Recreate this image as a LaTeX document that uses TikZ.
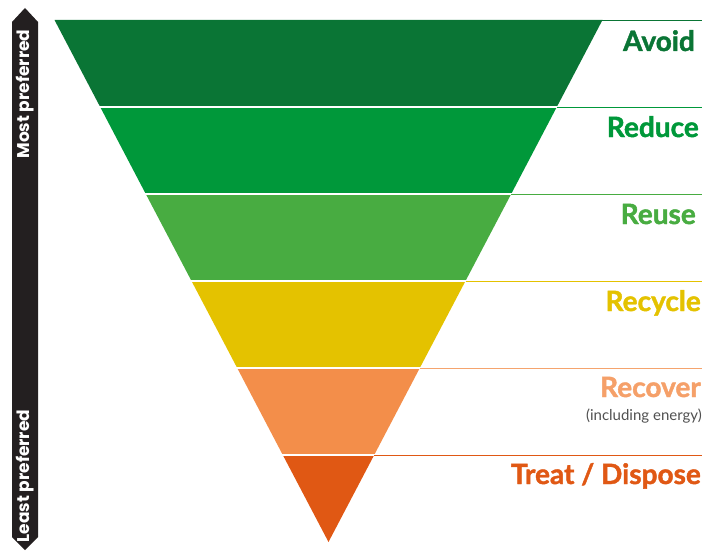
\documentclass[tikz,border=0pt]{standalone}
\usepackage{fontspec}
\setmainfont{Lato}[BoldFeatures={FakeBold=1.5}]
\newfontfamily\sidefont{Poppins}
\definecolor{cavoid}{RGB}{10,117,53}
\definecolor{creduce}{RGB}{0,152,58}
\definecolor{creuse}{RGB}{72,172,65}
\definecolor{crecycle}{RGB}{228,194,0}
\definecolor{crecover}{RGB}{243,142,74}
\definecolor{crecovertxt}{RGB}{245,160,105}
\definecolor{ctreat}{RGB}{224,88,20}
\definecolor{cbar}{RGB}{35,31,32}
\definecolor{cgraytxt}{RGB}{80,80,80}
\begin{document}
\begin{tikzpicture}[x=1pt,y=-1pt,
  lbl/.style={anchor=base east,inner sep=0pt,font=\fontsize{28}{28}\selectfont\bfseries},
  sidelbl/.style={rotate=90,text=white,inner sep=0pt,font=\sidefont\fontsize{17}{17}\selectfont\bfseries},
  gap/.style={white,line width=2pt},
  rline/.style={line width=1.5pt}]
\useasboundingbox (0,0) rectangle (705,551);
% bands
\fill[cavoid]   (54.5,20) -- (602.5,20) -- (556.8,107) -- (100.2,107) -- cycle;
\fill[creduce]  (100.2,107) -- (556.8,107) -- (511.2,194) -- (145.8,194) -- cycle;
\fill[creuse]   (145.8,194) -- (511.2,194) -- (465.5,281) -- (191.5,281) -- cycle;
\fill[crecycle] (191.5,281) -- (465.5,281) -- (419.8,368) -- (237.2,368) -- cycle;
\fill[crecover] (237.2,368) -- (419.8,368) -- (374.2,455) -- (282.8,455) -- cycle;
\fill[ctreat]   (282.8,455) -- (374.2,455) -- (328.5,542) -- cycle;
% white gaps
\foreach \y/\l/\r in {107/100.2/556.8,194/145.8/511.2,281/191.5/465.5,368/237.2/419.8,455/282.8/374.2}
  \draw[gap] (\l-1,\y) -- (\r+1,\y);
% right lines
\draw[rline,cavoid]   (600,20.7) -- (702,20.7);
\draw[rline,creduce]  (556.8,107.7) -- (702,107.7);
\draw[rline,creuse]   (511.2,194.7) -- (702,194.7);
\draw[rline,crecycle] (465.5,281.7) -- (702,281.7);
\draw[rline,crecover!80!white] (419.8,368.7) -- (702,368.7);
\draw[rline,ctreat]   (374.2,455.7) -- (702,455.7);
% labels
\node[lbl,text=cavoid]   (avoid)   at (695,51)  {Avoid};
\node[lbl,text=creduce]  (reduce)  at (699,137) {Reduce};
\node[lbl,text=creuse]   (reuse)   at (696,224) {Reuse};
\node[lbl,text=crecycle] (recycle) at (701,311) {Recycle};
\node[lbl,text=crecovertxt] (recover) at (701,397) {Recover};
\node[anchor=base east,inner sep=0pt,text=cgraytxt,font=\fontsize{15}{15}\selectfont] (energy) at (702,420) {(including energy)};
\node[lbl,text=ctreat]   (treat)   at (701,484) {Treat / Dispose};
% side arrow
\fill[cbar] (12,22) -- (25,8) -- (38,22) -- (38,537) -- (25,550) -- (12,537) -- cycle;
\node[sidelbl] (most)  at (25.5,94)  {Most preferred};
\node[sidelbl] (least) at (25.5,476) {Least preferred};
\end{tikzpicture}
\end{document}
